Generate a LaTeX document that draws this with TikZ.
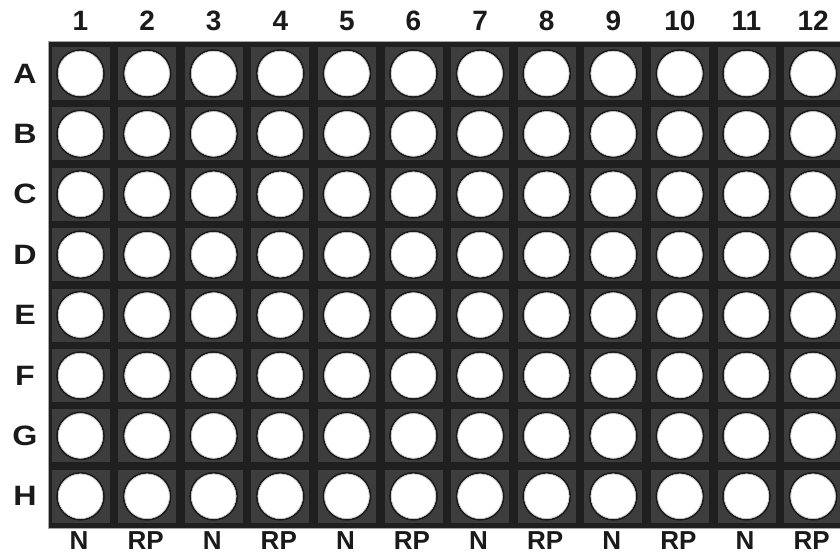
\documentclass[tikz,border=0pt]{standalone}
\usepackage{fontspec}
\setmainfont{Liberation Sans}
\definecolor{platebg}{HTML}{1F1F1F}
\definecolor{cellbg}{HTML}{3D3D3D}
\definecolor{labcol}{HTML}{1A1A1A}
\tikzset{
  lab/.style={font=\bfseries\fontsize{28}{28}\selectfont, text=labcol, inner sep=0pt, anchor=center},
  rowlab/.style={lab, xscale=1.15},
  botlab/.style={lab, font=\bfseries\fontsize{26}{26}\selectfont, anchor=base},
  cellbox/.style={rectangle, fill=cellbg, minimum width=58pt, minimum height=53pt, inner sep=0pt},
  well/.style={circle, fill=white, draw=black!90, line width=1.6pt, minimum size=47pt, inner sep=0pt},
  ring/.style={draw=gray!50, line width=0.6pt}
}
\begin{document}
\begin{tikzpicture}[x=1pt,y=-1pt]
\useasboundingbox (0,0) rectangle (840,554);
\clip (0,0) rectangle (840,554);
\fill[white] (0,0) rectangle (840,554);
\filldraw[fill=platebg, draw=gray!70, line width=0.8pt] (48,41) rectangle (870,528);
\foreach \j in {1,...,12}{
  \pgfmathsetmacro{\cx}{80.5+66.6*(\j-1)}
  \node[lab] (col\j) at (\cx,21) {\j};
  \foreach \i/\r in {1/A,2/B,3/C,4/D,5/E,6/F,7/G,8/H}{
    \pgfmathsetmacro{\cy}{73.5+60.4*(\i-1)}
    \node[cellbox] (cell\r\j) at (\cx,\cy) {};
    \node[well] (well\r\j) at (\cx,\cy) {};
    \draw[ring] (well\r\j.center) circle (22.3pt);
  }
}
\foreach \i/\r in {1/A,2/B,3/C,4/D,5/E,6/F,7/G,8/H}{
  \pgfmathsetmacro{\cy}{73.5+60.4*(\i-1)}
  \node[rowlab] (row\r) at (25,\cy) {\r};
}
\foreach \j/\t in {1/N,2/RP,3/N,4/RP,5/N,6/RP,7/N,8/RP,9/N,10/RP,11/N,12/RP}{
  \pgfmathsetmacro{\cx}{79+66.6*(\j-1)}
  \node[botlab] (bot\j) at (\cx,549) {\t};
}
\end{tikzpicture}
\end{document}
